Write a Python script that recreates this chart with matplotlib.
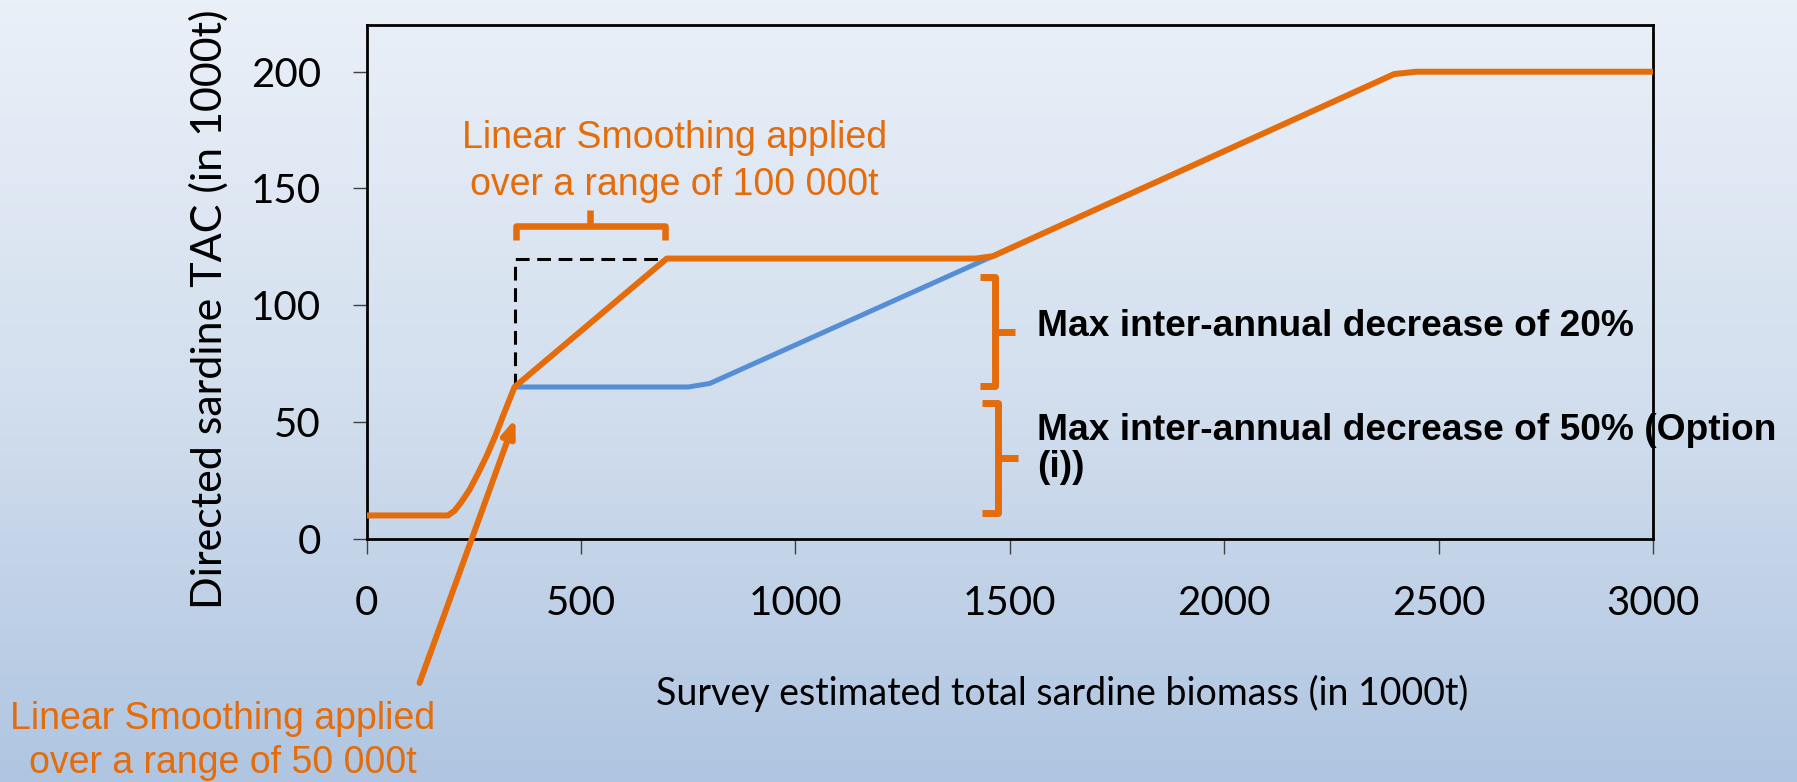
import numpy as np
import matplotlib
matplotlib.use("Agg")
import matplotlib.pyplot as plt
from matplotlib.colors import LinearSegmentedColormap

# data (biomass and TAC in 1000t)
orange_x = [0, 190, 205, 220, 240, 260, 280, 300, 320, 345,
            700, 1420, 1460, 2396, 2447, 3000]
orange_y = [10, 10, 12, 15.5, 21, 28, 35.5, 44, 53.5, 65,
            120, 120, 121, 199, 200, 200]
blue_x = [345, 750, 800, 1460]
blue_y = [65, 65, 66.5, 121]
dash_x = [345, 345, 700]
dash_y = [65, 120, 120]
xticks = [0, 500, 1000, 1500, 2000, 2500, 3000]
yticks = [0, 50, 100, 150, 200]

ORANGE = '#E46C0A'
BLUE = '#558ED5'

fig = plt.figure(figsize=(17.97, 7.82), dpi=100)

# slide background gradient
bg = fig.add_axes([0, 0, 1, 1], zorder=-10)
cmap = LinearSegmentedColormap.from_list('bg', ['#EAF0F8', '#D3DFEE', '#AFC5E1'])
grad = np.linspace(0, 1, 256).reshape(-1, 1)
bg.imshow(grad, aspect='auto', cmap=cmap, extent=[0, 1, 0, 1], origin='upper')
bg.axis('off')

ax = fig.add_axes([0.204, 0.311, 0.716, 0.657])
ax.set_facecolor('none')

ax.plot(blue_x, blue_y, color=BLUE, lw=3.6, solid_capstyle='butt', zorder=3)
ax.plot(orange_x, orange_y, color=ORANGE, lw=4.3, solid_joinstyle='round', zorder=4)
ax.plot(dash_x, dash_y, color='black', lw=2.2, ls=(0, (4.5, 2.5)), zorder=2)

ax.set_xlim(0, 3000)
ax.set_ylim(0, 220)
ax.set_xticks(xticks)
ax.set_yticks(yticks)
for s in ax.spines.values():
    s.set_linewidth(2.0)
ax.tick_params(axis='y', length=10, width=1.0, color='#404040', direction='out', pad=23)
ax.tick_params(axis='x', length=11, width=1.0, color='#404040', direction='out', pad=22)
for lab in ax.get_xticklabels() + ax.get_yticklabels():
    lab.set_fontfamily('Lato')
    lab.set_fontsize(29)
ax.set_xlabel('Survey estimated total sardine biomass (in 1000t)',
              fontfamily='Lato', fontsize=27, va='center')
ax.xaxis.set_label_coords(0.541, -0.30)
ax.set_ylabel('Directed sardine TAC (in 1000t)', fontfamily='Lato', fontsize=31, va='center')
ax.yaxis.set_label_coords(-0.1228, 0.447)


def vbrace(x_tip, x_line, x_nub, y_bot, y_top):
    kw = dict(color=ORANGE, lw=5, clip_on=False, zorder=5, solid_joinstyle='round',
              solid_capstyle='butt')
    ax.plot([x_tip, x_line, x_line, x_tip], [y_top, y_top, y_bot, y_bot], **kw)
    ym = (y_bot + y_top) / 2
    ax.plot([x_line, x_nub], [ym, ym], **kw)


def hbrace(x_left, x_right, y_tip, y_line, y_nub):
    kw = dict(color=ORANGE, lw=4.7, clip_on=False, zorder=5, solid_joinstyle='round',
              solid_capstyle='butt')
    ax.plot([x_left, x_left, x_right, x_right], [y_tip, y_line, y_line, y_tip], **kw)
    xm = (x_left + x_right) / 2
    ax.plot([xm, xm], [y_line, y_nub], **kw)


hbrace(348, 695, 128, 134, 141)
vbrace(1430, 1466, 1512, 65.5, 112)
vbrace(1436, 1472, 1518, 11, 58)

ax.text(718, 161.5, 'Linear Smoothing applied\nover a range of 100 000t', color=ORANGE,
        fontfamily='Liberation Sans', fontsize=27, ha='center', va='center', linespacing=1.38)
ax.text(1564, 90.9, 'Max inter-annual decrease of 20%', fontfamily='Liberation Sans',
        fontweight='bold', fontsize=26.7, ha='left', va='center', clip_on=False)
ax.text(1564, 38.5, 'Max inter-annual decrease of 50% (Option\n(i))', fontfamily='Liberation Sans',
        fontweight='bold', fontsize=26.7, ha='left', va='center', linespacing=1.08, clip_on=False)

ax.annotate('', xy=(347, 51.5), xytext=(123.5, -61.7), xycoords='data', textcoords='data',
            annotation_clip=False,
            arrowprops=dict(arrowstyle='-|>,head_length=1.0,head_width=0.38', color=ORANGE,
                            lw=4.3, shrinkA=0, shrinkB=0))
fig.text(223 / 1797, 1 - 741 / 782, 'Linear Smoothing applied\nover a range of 50 000t', color=ORANGE,
         fontfamily='Liberation Sans', fontsize=27, ha='center', va='center', linespacing=1.32)

fig.savefig('out.png', dpi=100)
